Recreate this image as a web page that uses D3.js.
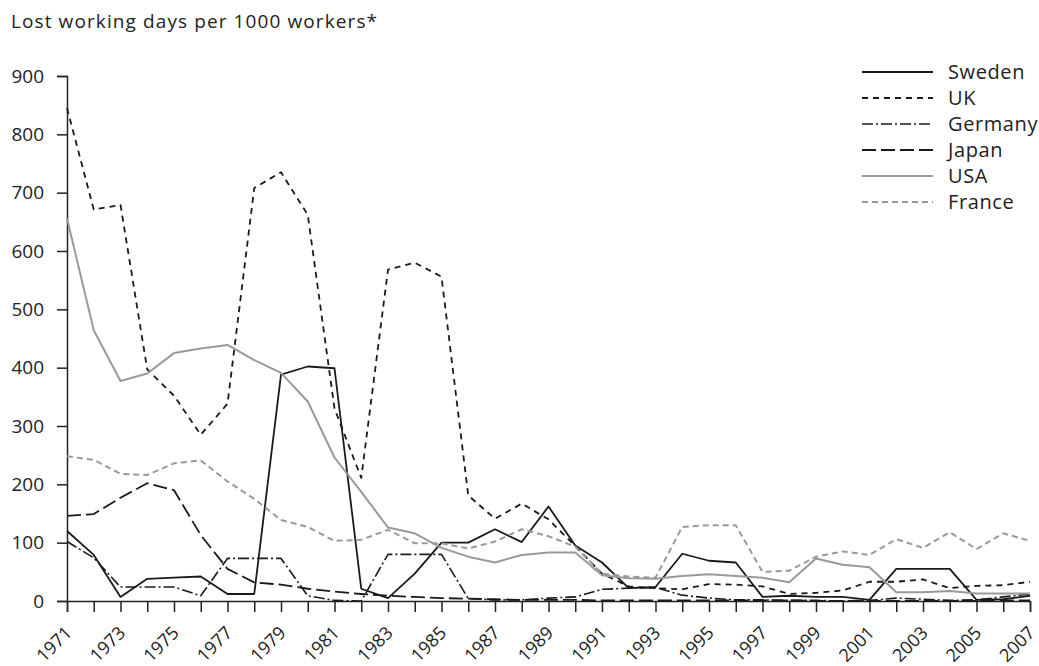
<!DOCTYPE html>
<html><head><meta charset="utf-8">
<script src="https://cdn.jsdelivr.net/npm/d3@7"></script>
<style>body{margin:0;background:#fff}svg{display:block}text{font-family:"Open Sans",sans-serif;fill:#222}</style>
</head><body>
<svg id="c" width="1039" height="666"></svg>
<script>
const years = d3.range(1971, 2008);
const tickYears = d3.range(1971, 2008, 2);
const yTicks = [0,100,200,300,400,500,600,700,800,900];
const sweden = [120,79,7,38,40,42,12,12,388,402, 399,21,5,47,100,100,123,101,162,95, 66,22,24,81,69,66,7,9,7,7, 2,55,55,55,2,3,9];
const uk = [845,671,679,397,352,285,338,708,735,662, 330,211,568,580,556,181,141,167,140,94, 47,25,22,20,29,28,25,12,14,18, 33,33,37,22,26,27,33];
const germany = [102,74,24,24,24,9,73,73,73,9, 1,0,80,80,80,4,2,2,5,7, 20,22,23,10,5,2,2,1,1,0, 1,5,3,1,2,7,12];
const japan = [146,149,177,202,190,113,55,32,28,21, 16,12,9,7,5,4,3,2,2,2, 1,1,1,1,1,1,1,1,0,0, 0,0,0,0,0,1,1];
const usa = [656,464,377,390,425,433,439,413,391,342, 246,187,126,116,91,76,66,79,83,83, 44,39,38,43,46,43,40,32,73,62, 58,15,15,17,13,13,13];
const france = [248,242,218,216,236,241,205,175,139,127, 103,105,122,99,99,90,102,123,111,93, 47,42,40,127,130,130,50,52,76,85, 79,106,91,118,89,116,103];
const seriesNames = ["Sweden","UK","Germany","Japan","USA","France"];

const series = [
  {name:seriesNames[0], values:sweden, color:"#1a1a1a", dash:null, w:1.8},
  {name:seriesNames[1], values:uk, color:"#1a1a1a", dash:"6,5", w:1.8},
  {name:seriesNames[2], values:germany, color:"#1a1a1a", dash:"11,3,2,3", w:1.6},
  {name:seriesNames[3], values:japan, color:"#1a1a1a", dash:"14,5", w:1.8},
  {name:seriesNames[4], values:usa, color:"#999", dash:null, w:2},
  {name:seriesNames[5], values:france, color:"#999", dash:"6,4", w:2}
];

const svg = d3.select("#c");
const x = d3.scaleLinear().domain([1971,2007]).range([67,1030]);
const y = d3.scaleLinear().domain([0,900]).range([601,76]);

svg.append("text").attr("x",11).attr("y",28).attr("font-size",19)
  .attr("letter-spacing",1.1).text("Lost working days per 1000 workers*");

// y axis
const ya = svg.append("g").attr("transform","translate(67,0)")
  .call(d3.axisLeft(y).tickValues(yTicks).tickSize(10).tickPadding(13).tickFormat(d3.format("d")));
ya.select(".domain").attr("stroke","#222").attr("stroke-width",1.5);
ya.selectAll(".tick line").attr("stroke","#222").attr("stroke-width",1.5);
ya.selectAll("text").attr("font-size",19).attr("font-family","Open Sans").attr("fill","#222");

// x axis
const xa = svg.append("g").attr("transform","translate(0,601)")
  .call(d3.axisBottom(x).tickValues(years).tickSize(11).tickFormat(""));
xa.select(".domain").attr("stroke","#222").attr("stroke-width",1.5);
xa.selectAll(".tick line").attr("stroke","#222").attr("stroke-width",1.5);
svg.append("g").selectAll("text").data(tickYears).join("text")
  .attr("transform",d=>`translate(${x(d)+6},${634}) rotate(-45)`)
  .attr("text-anchor","end").attr("font-size",18).text(d=>d);

const line = d3.line().x((d,i)=>x(years[i])).y(d=>y(d));
svg.append("g").selectAll("path").data(series).join("path")
  .attr("d",s=>line(s.values)).attr("fill","none")
  .attr("stroke",s=>s.color).attr("stroke-width",s=>s.w)
  .attr("stroke-dasharray",s=>s.dash).attr("stroke-linejoin","round");

// legend
const lg = svg.append("g").selectAll("g").data(series).join("g")
  .attr("transform",(s,i)=>`translate(862,${72+i*26})`);
lg.append("line").attr("x1",0).attr("x2",71).attr("y1",0).attr("y2",0)
  .attr("stroke",s=>s.color).attr("stroke-width",s=>s.w).attr("stroke-dasharray",s=>s.dash);
lg.append("text").attr("x",86).attr("y",7).attr("font-size",20).attr("letter-spacing",0.6).text(s=>s.name);
</script>
</body></html>
